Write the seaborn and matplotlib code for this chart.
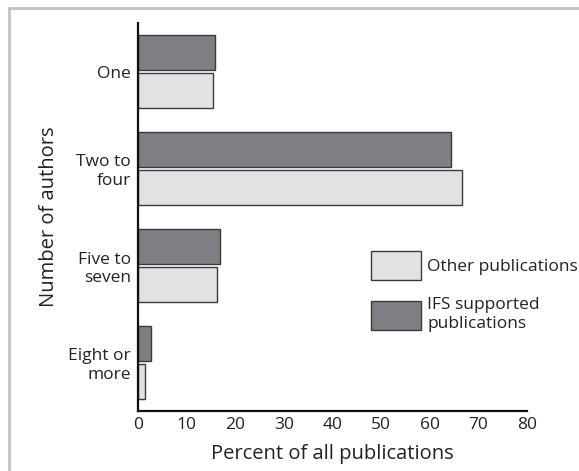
import numpy as np
import pandas as pd
import matplotlib
matplotlib.use('Agg')
import matplotlib.pyplot as plt
import matplotlib.patches as mpatches
from matplotlib.lines import Line2D
import seaborn as sns

sns.set_style('white')
plt.rcParams['font.family'] = ['Open Sans', 'DejaVu Sans']

categories = ['One', 'Two to\nfour', 'Five to\nseven', 'Eight or\nmore']
ifs_pct = [15.9, 64.4, 16.9, 2.6]
other_pct = [15.4, 66.7, 16.2, 1.5]
series = ['IFS supported publications', 'Other publications']
x_ticks = [0, 10, 20, 30, 40, 50, 60, 70, 80]

df = pd.DataFrame({
    'authors': categories * 2,
    'percent': ifs_pct + other_pct,
    'group': [series[0]] * 4 + [series[1]] * 4,
})

dark = '#7e7f83'
light = '#e1e2e4'
edge = '#3a3a3a'
fs = 12.5
fs_lab = 14.5

fig = plt.figure(figsize=(5.79, 4.71), dpi=100)
ax = fig.add_axes([138 / 579, 60 / 471, 389 / 579, 388 / 471])

sns.barplot(data=df, y='authors', x='percent', hue='group', hue_order=series,
            order=categories, palette=[dark, light], orient='h', width=0.8, gap=0.1,
            edgecolor=edge, linewidth=1.0, saturation=1, legend=False, ax=ax)

ax.set_xlim(0, 80)
ax.set_ylim(3.5, -0.5)
ax.set_xticks(x_ticks)
ax.set_axisbelow(False)
ax.set_xlabel('Percent of all publications', fontsize=fs_lab, labelpad=8, color='#222222')
ax.set_ylabel('Number of authors', fontsize=fs_lab, color='#222222')
ax.yaxis.set_label_coords((49 - 138) / 389, 0.5)
ax.yaxis.label.set_va('center')

for s in ['top', 'right']:
    ax.spines[s].set_visible(False)
for s in ['left', 'bottom']:
    ax.spines[s].set_color('#111111')
    ax.spines[s].set_linewidth(1.6)

ax.tick_params(axis='x', direction='in', length=7, width=1.5, color='#111111',
               labelsize=fs, labelcolor='#222222', pad=4)
ax.tick_params(axis='y', direction='in', length=6, width=2.0, color='#111111',
               labelsize=fs, labelcolor='#222222', pad=5)
for lab in ax.get_yticklabels():
    lab.set_horizontalalignment('right')
    lab.set_multialignment('right')
    lab.set_linespacing(1.2)

handles = [mpatches.Patch(facecolor=light, edgecolor=edge, linewidth=1.0, label='Other publications'),
           mpatches.Patch(facecolor=dark, edgecolor=edge, linewidth=1.0, label='IFS supported\npublications')]
leg = ax.legend(handles=handles, loc='upper left', bbox_to_anchor=((371 - 138) / 389, (411 - 251) / 388),
                frameon=False, fontsize=fs, handlelength=2.9, handleheight=2.2,
                handletextpad=0.35, labelspacing=1.0, borderpad=0, borderaxespad=0,
                labelcolor='#222222')
for t in leg.get_texts():
    t.set_linespacing(1.2)

# light grey frame at the top and the left of the picture
fig.add_artist(Line2D([9 / 579, 9 / 579], [0, 463 / 471], color='#c2c2c2', lw=2.0))
fig.add_artist(Line2D([9 / 579, 1], [463 / 471, 463 / 471], color='#c2c2c2', lw=2.0))

fig.savefig('out.png', dpi=100)
